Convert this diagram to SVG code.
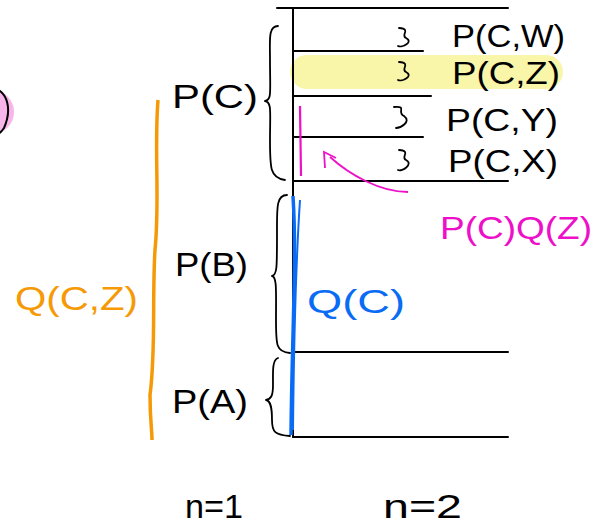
<svg xmlns="http://www.w3.org/2000/svg" width="605" height="524" viewBox="0 0 605 524">
<style>
.ln{stroke:#000;stroke-width:2;fill:none;stroke-linecap:round}
.br{stroke:#000;stroke-width:1.8;fill:none;stroke-linecap:round;stroke-linejoin:round}
.t{font-family:"Liberation Sans",Arial,sans-serif;font-size:34px;fill:#000}
.ts{font-family:"Liberation Sans",Arial,sans-serif;font-size:31px;fill:#000}
</style>
<rect width="605" height="524" fill="#fff"/>
<g id="pink-circle">
<circle cx="-8" cy="112" r="22" fill="#f7a8e6" opacity="0.85"/>
<path d="M-6 88 C8 92 12 110 4 128 C0 134 -4 136 -8 136" stroke="#000" stroke-width="2" fill="none"/>
</g>
<g id="highlight">
<rect x="290" y="55" width="273" height="34" rx="17" fill="#f8f5a0" opacity="0.9"/>
</g>
<g id="connectors">
<path class="ln" d="M293 8 V437"/>
<path class="ln" d="M277 8 H508" />
<path class="ln" d="M293 51 H423"/>
<path class="ln" d="M293 96 H431"/>
<path class="ln" d="M293 137 H423"/>
<path class="ln" d="M293 181 H508"/>
<path class="ln" d="M293 352 H508"/>
<path class="ln" d="M293 437 H508"/>
<path d="M293 196 C297 260 292 330 291 435" stroke="#0a6cf5" stroke-width="3.5" fill="none"/>
<path d="M300 200 C296 260 294 330 293 430" stroke="#0a6cf5" stroke-width="2" fill="none"/>
<path d="M158 100 C154 150 160 200 155 250 C152 300 156 350 150 395 C150 420 152 430 152 440" stroke="#f59a06" stroke-width="3.5" fill="none"/>
<path d="M300 106 L301 176" stroke="#ee10c8" stroke-width="2.2" fill="none"/>
<path d="M408 192 C380 192 350 175 330 157" stroke="#ee10c8" stroke-width="1.8" fill="none"/>
<path d="M325 168 L324 152 L336 158" stroke="#ee10c8" stroke-width="1.8" fill="none"/>
</g>
<g id="node-C">
<path class="br" d="M278 26 C268 26 270 40 270 60 C270 92 272 100 265 101 C272 102 270 112 270 140 C270 168 270 178 285 180"/>
<text class="t" x="172" y="108" textLength="86" lengthAdjust="spacingAndGlyphs">P(C)</text>
</g>
<g id="node-B">
<path class="br" d="M287 195 C276 195 277 208 277 235 C277 268 277 275 272 276 C277 277 276 290 276 320 C276 345 276 352 290 353"/>
<text class="t" x="175" y="276" textLength="73" lengthAdjust="spacingAndGlyphs">P(B)</text>
</g>
<g id="node-A">
<path class="br" d="M278 358 C272 360 273 372 273 385 C273 396 271 399 266 400 C271 401 272 408 272 420 C272 432 275 435 290 436"/>
<text class="t" x="172" y="413" textLength="76" lengthAdjust="spacingAndGlyphs">P(A)</text>
</g>
<g id="node-W">
<path class="br" d="M399 28 C412 29 400 35 406 38 C414 42 402 48 398 46"/>
<text class="ts" x="452" y="47" textLength="113" lengthAdjust="spacingAndGlyphs">P(C,W)</text>
</g>
<g id="node-Z">
<path class="br" d="M399 62 C412 63 400 69 406 72 C414 76 402 82 398 80"/>
<text class="ts" x="452" y="84" textLength="108" lengthAdjust="spacingAndGlyphs">P(C,Z)</text>
</g>
<g id="node-Y">
<path class="br" d="M394 107 C408 106 396 112 404 116 C412 122 400 128 396 128"/>
<text class="ts" x="446" y="131" textLength="112" lengthAdjust="spacingAndGlyphs">P(C,Y)</text>
</g>
<g id="node-X">
<path class="br" d="M399 150 C412 151 400 157 406 160 C414 164 402 172 398 170"/>
<text class="ts" x="448" y="172" textLength="110" lengthAdjust="spacingAndGlyphs">P(C,X)</text>
</g>
<g id="label-PQ">
<text class="ts" x="440" y="239" style="fill:#ee10c8" textLength="152" lengthAdjust="spacingAndGlyphs">P(C)Q(Z)</text>
</g>
<g id="label-QC">
<text class="t" x="307" y="313" style="fill:#0a6cf5" textLength="98" lengthAdjust="spacingAndGlyphs">Q(C)</text>
</g>
<g id="label-QCZ">
<text class="t" x="15" y="310" style="fill:#f59a06" textLength="123" lengthAdjust="spacingAndGlyphs">Q(C,Z)</text>
</g>
<g id="bottom">
<text class="t" x="185" y="518" textLength="58" lengthAdjust="spacingAndGlyphs">n=1</text>
<text class="t" x="383" y="518" textLength="79" lengthAdjust="spacingAndGlyphs">n=2</text>
</g>
</svg>
